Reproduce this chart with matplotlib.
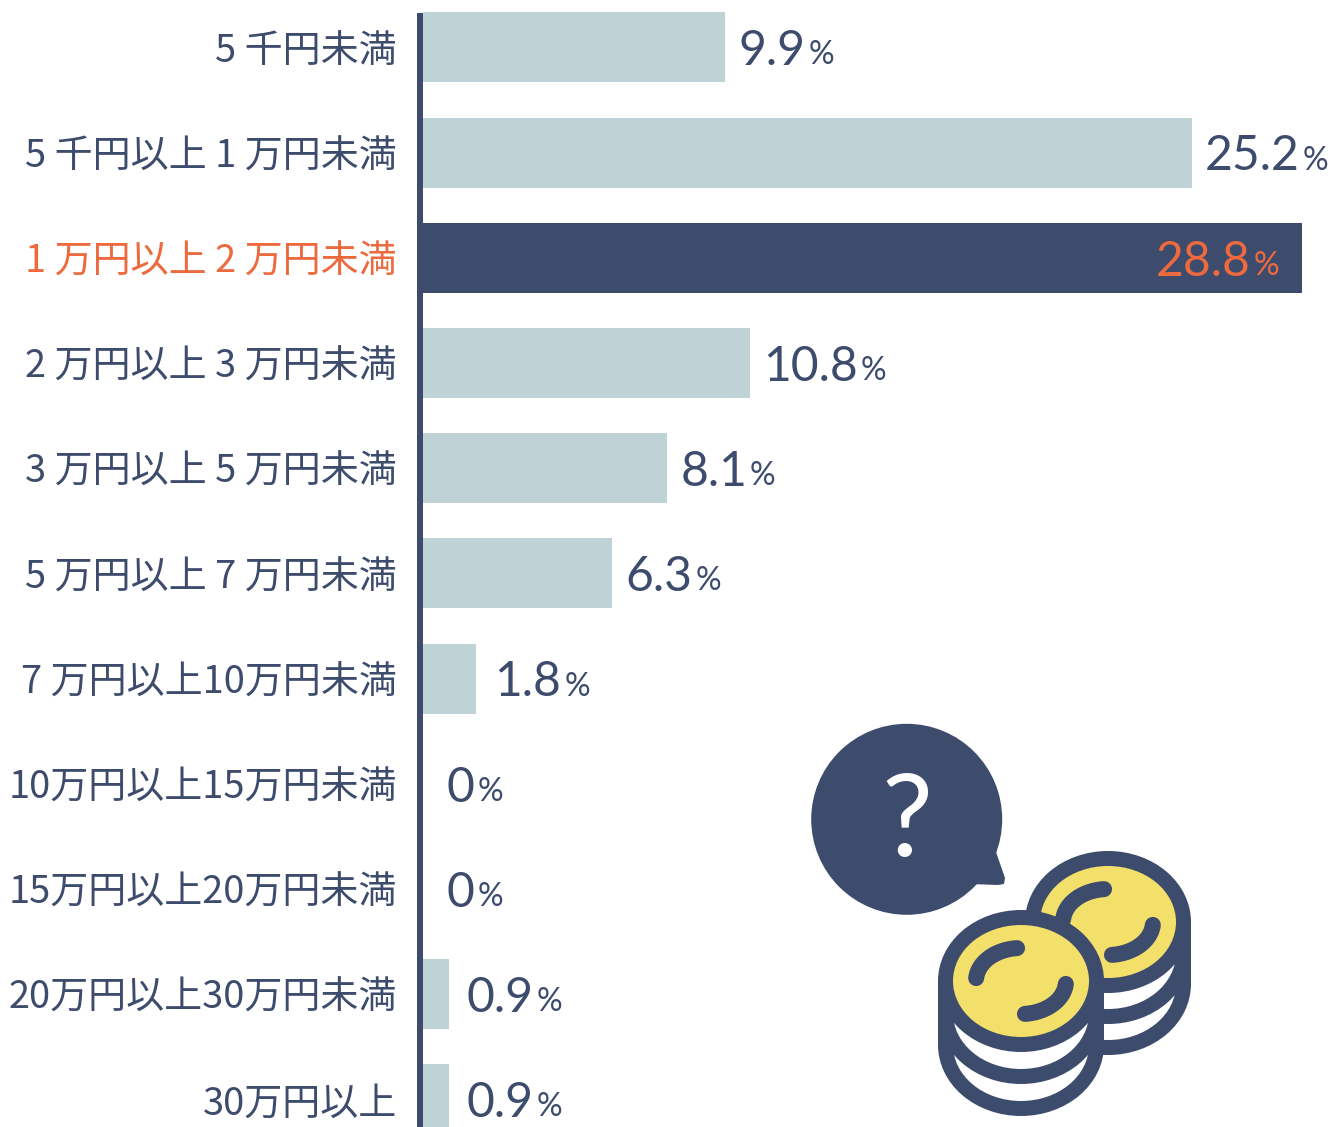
import numpy as np
import matplotlib
matplotlib.use("Agg")
import matplotlib.pyplot as plt
from matplotlib.patches import Ellipse, Rectangle, Circle, Polygon

categories = ["5 千円未満", "5 千円以上 1 万円未満", "1 万円以上 2 万円未満", "2 万円以上 3 万円未満",
              "3 万円以上 5 万円未満", "5 万円以上 7 万円未満", "7 万円以上10万円未満", "10万円以上15万円未満",
              "15万円以上20万円未満", "20万円以上30万円未満", "30万円以上"]
values = [9.9, 25.2, 28.8, 10.7, 8.0, 6.2, 1.75, 0, 0, 0.85, 0.85]
value_labels = ["9.9", "25.2", "28.8", "10.8", "8.1", "6.3", "1.8", "0", "0", "0.9", "0.9"]
highlight = 2

NAVY = "#3D4B6D"
LIGHT = "#BFD2D6"
ORANGE = "#EC6A3E"
YELLOW = "#F3E06B"
CJK = ["Noto Sans CJK JP", "DejaVu Sans"]
W, H = 1332, 1127
px = 72 / 100

fig = plt.figure(figsize=(W / 100, H / 100), dpi=100, facecolor="white")
ax = fig.add_axes([423 / W, 0, (W - 423) / W, 1])
ax.set_xlim(0, (W - 423) / 30.52)
ax.set_ylim((1127 - 47.3) / 105.2, -47.3 / 105.2)
y = np.arange(len(values))
colors = [NAVY if i == highlight else LIGHT for i in y]
ax.barh(y, values, height=70 / 105.2, color=colors)

for s in ["top", "right", "bottom"]:
    ax.spines[s].set_visible(False)
ax.spines["left"].set_position(("outward", 3 * px))
ax.spines["left"].set_linewidth(6 * px)
ax.spines["left"].set_color(NAVY)
ax.spines["left"].set_bounds(-31.3 / 105.2, (1127 - 47.3) / 105.2)
ax.set_xticks([])
ax.set_yticks(y)
ax.set_yticklabels(categories, family=CJK, fontsize=38 * px, color=NAVY)
ax.get_yticklabels()[highlight].set_color(ORANGE)
ax.tick_params(axis="y", length=0, pad=23 * px)

for i, (v, lab) in enumerate(zip(values, value_labels)):
    if i == highlight:
        t = ax.annotate(lab, (v, i), xytext=(-146 * px, -4 * px), textcoords="offset points",
                        family="Lato", fontsize=48 * px, color=ORANGE, va="center", ha="left")
        col = ORANGE
    else:
        off = 24 if v == 0 else (18 if v < 2 else 13)
        t = ax.annotate(lab, (v, i), xytext=(off * px, -4 * px), textcoords="offset points",
                        family="Lato", fontsize=48 * px, color=NAVY, va="center", ha="left")
        col = NAVY
    ax.annotate("%", xy=(1, 0), xycoords=t, xytext=(3 * px, 9 * px), textcoords="offset points",
                family="Lato", fontsize=32 * px, color=col, va="baseline", ha="left")

# illustration in pixel coordinates
ic = fig.add_axes([0, 0, 1, 1])
ic.set_xlim(0, W)
ic.set_ylim(H, 0)
ic.axis("off")
ic.patch.set_alpha(0)
ic.add_patch(Circle((906.7, 819.3), 95.5, color=NAVY, lw=0))
ic.add_patch(Polygon([(990, 845), (996, 852), (1005, 878), (1004, 884), (998, 885), (970, 884), (960, 880)],
                     closed=True, color=NAVY, lw=0, joinstyle="round"))
ic.text(907, 824, "?", color="white", fontsize=114 * px, family="Lato", ha="center", va="center")


def arc(cx, cy, a0, a1):
    t = np.radians(np.linspace(a0, a1, 40))
    ic.plot(cx + 45 * np.cos(t), cy + 33 * np.sin(t), color=NAVY, lw=16 * px, solid_capstyle="round")


def coin(cx, cy, step):
    rx, ry = 68, 56
    sw = 15
    O = dict(width=2 * (rx + sw), height=2 * (ry + sw), color=NAVY, lw=0)
    I = dict(width=2 * rx, height=2 * ry, lw=0)
    ic.add_patch(Rectangle((cx - rx - sw, cy), 2 * (rx + sw), 2 * step, color=NAVY, lw=0))
    ic.add_patch(Ellipse((cx, cy + 2 * step), **O))
    ic.add_patch(Ellipse((cx, cy + 2 * step), color="white", **I))
    ic.add_patch(Ellipse((cx, cy + step), **O))
    ic.add_patch(Ellipse((cx, cy + step), color="white", **I))
    ic.add_patch(Ellipse((cx, cy), **O))
    ic.add_patch(Ellipse((cx, cy), color=YELLOW, **I))
    arc(cx, cy, 185, 265)
    arc(cx, cy, 5, 85)


coin(1108, 922, 31)
coin(1021, 981, 32)

fig.savefig("out.png", dpi=100, facecolor="white")
